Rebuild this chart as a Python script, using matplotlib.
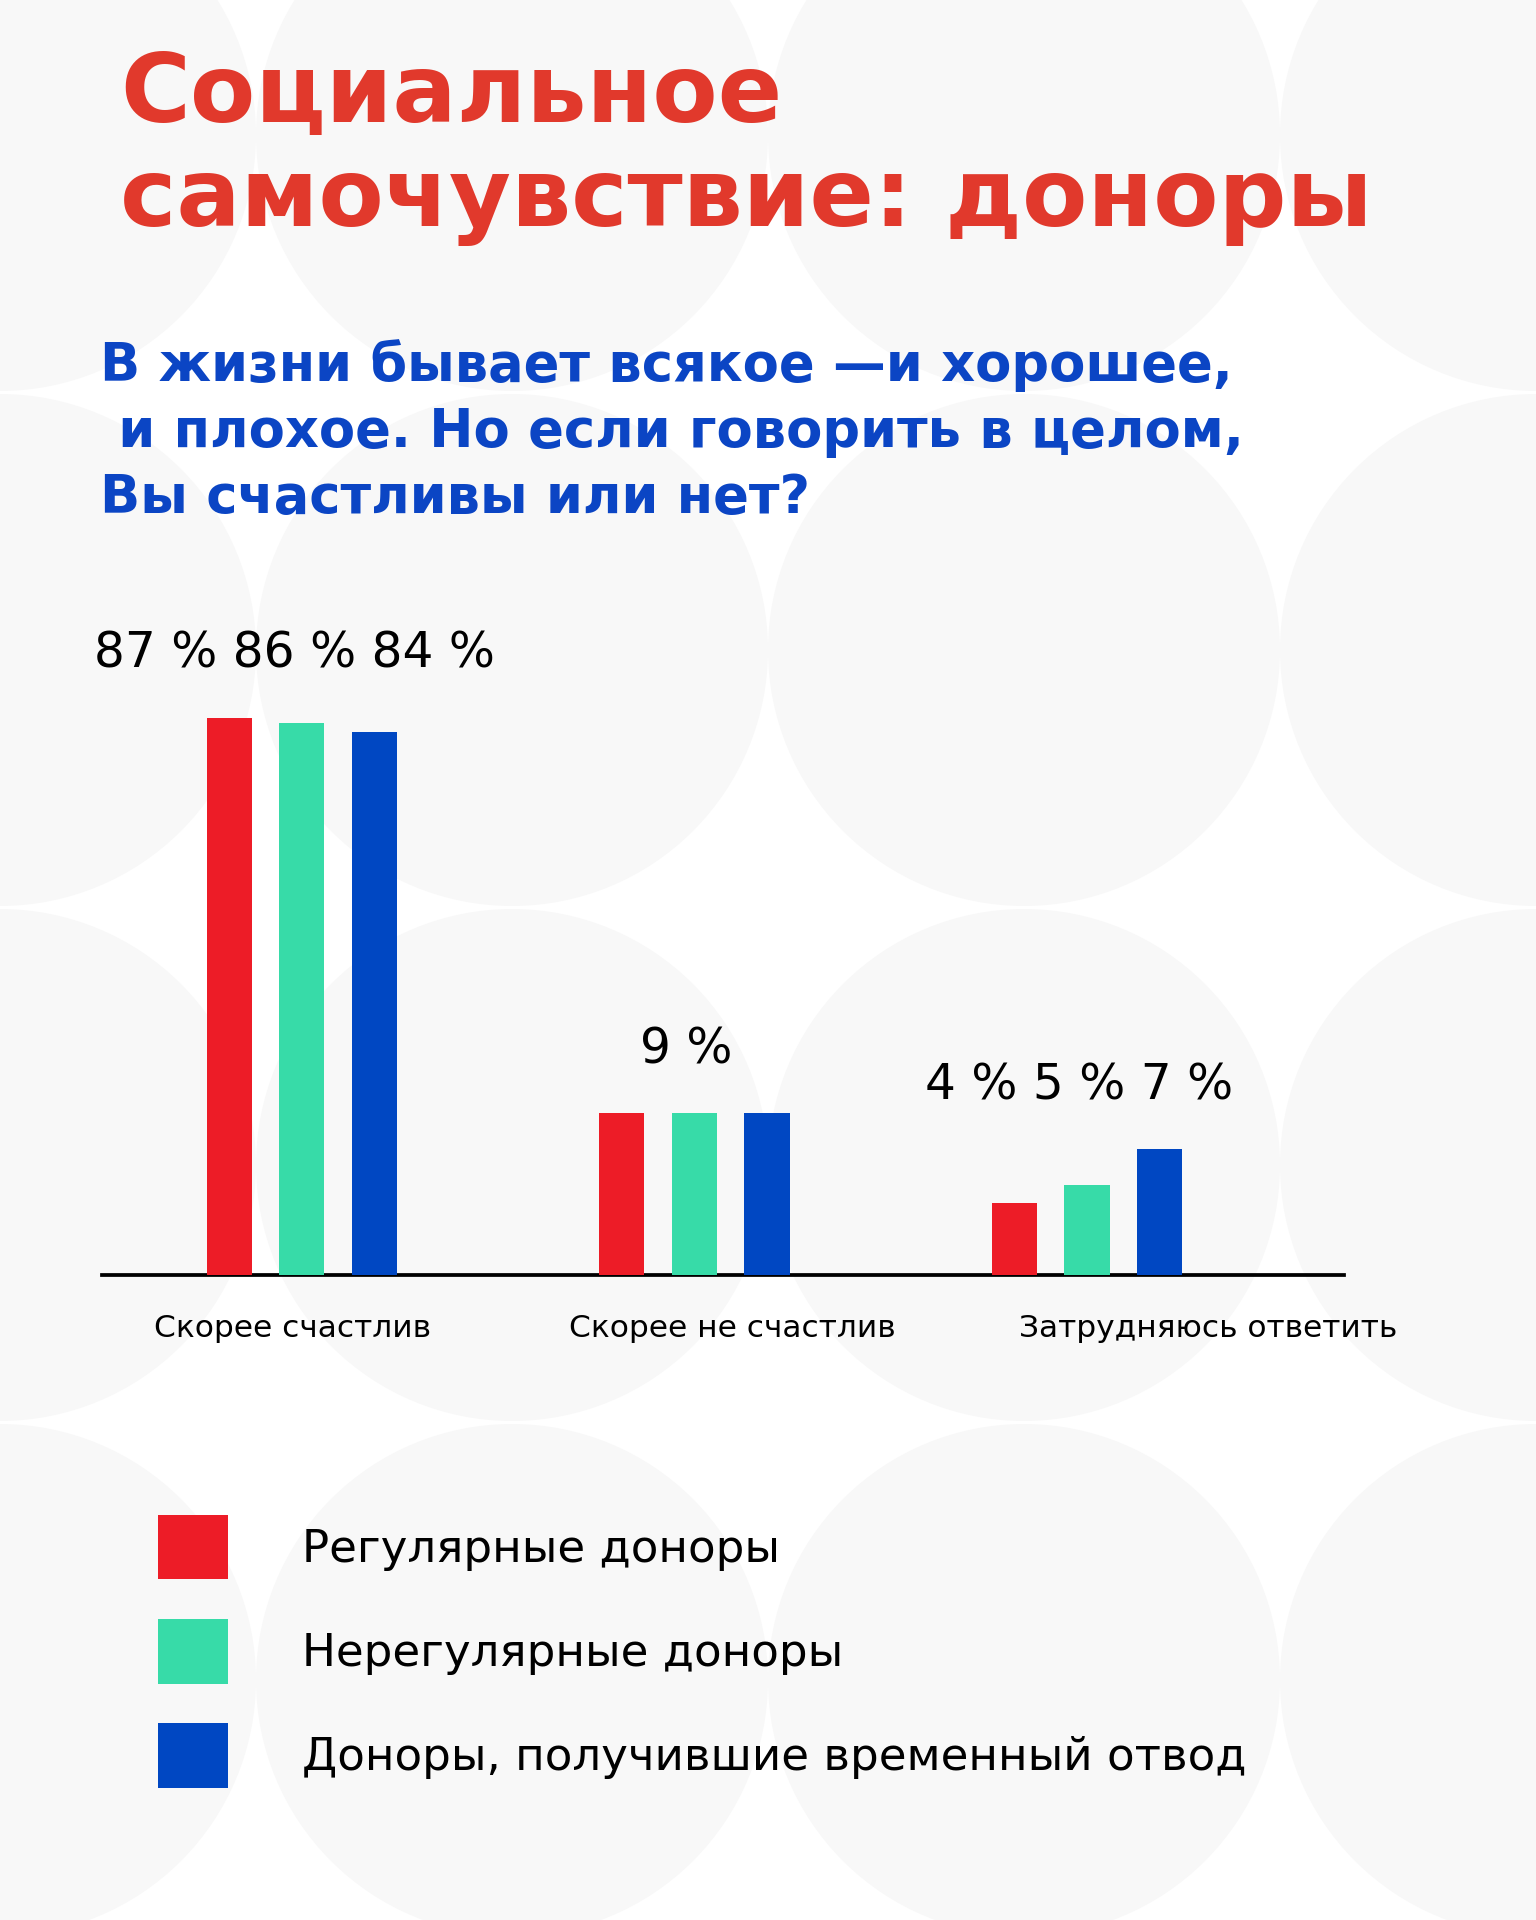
import matplotlib
matplotlib.use("Agg")
import matplotlib.pyplot as plt
from matplotlib.patches import Circle
import numpy as np

# --- data ---
categories = ["Скорее счастлив", "Скорее не счастлив", "Затрудняюсь ответить"]
series_names = ["Регулярные доноры", "Нерегулярные доноры",
                "Доноры, получившие временный отвод"]
regular = [87, 9, 4]
irregular = [86, 9, 5]
deferred = [84, 9, 7]

title_lines = ["Социальное", "самочувствие: доноры"]
question_lines = ["В жизни бывает всякое —и хорошее,",
                  " и плохое. Но если говорить в целом,",
                  "Вы счастливы или нет?"]

colors = ["#ED1C27", "#37DBA8", "#0047C2"]
title_color = "#E1392C"
question_color = "#0B45C4"

plt.rcParams['font.family'] = ['DejaVu Sans']

W, H = 1536, 1920
fig = plt.figure(figsize=(W / 100, H / 100), dpi=100, facecolor="white")


def fx(px):
    return px / W


def fy(py):
    return 1 - py / H


# background: grid of light grey circles
bg = fig.add_axes([0, 0, 1, 1], zorder=-10)
bg.set_xlim(0, W)
bg.set_ylim(H, 0)
bg.axis("off")
for cx in np.arange(0, W + 300, 512):
    for cy in np.arange(135, H + 300, 515):
        bg.add_patch(Circle((cx, cy), 256, facecolor="#F8F8F8", lw=0))

# title and question
for i, line in enumerate(title_lines):
    fig.text(fx(120), fy(122 + 104 * i), line, fontsize=68.5, fontweight="bold",
             color=title_color, ha="left", va="baseline")
for i, line in enumerate(question_lines):
    fig.text(fx(100), fy(381 + 66 * i), line, fontsize=38, fontweight="bold",
             color=question_color, ha="left", va="baseline")

# chart
base_y, top_y = 1275, 600
ax = fig.add_axes([fx(101.7), fy(base_y), (1343.7 - 101.7) / W, (base_y - top_y) / H])
ax.patch.set_alpha(0)

# the infographic stretches small values: two linear pieces joined at 10 %
brk, s_low, s_high = 10.0, 18.0, 4.9


def fwd(v):
    v = np.asarray(v, dtype=float)
    return np.where(v <= brk, v * s_low, brk * s_low + (v - brk) * s_high)


def inv(t):
    t = np.asarray(t, dtype=float)
    return np.where(t <= brk * s_low, t / s_low, brk + (t - brk * s_low) / s_high)


ax.set_yscale("function", functions=(fwd, inv))
ax.set_ylim(0, float(inv(base_y - top_y)))
ax.set_xlim(-0.51, 2.654)

x = np.arange(len(categories))
offsets = [-0.185, 0.0, 0.185]
width = 0.115
bars = []
for vals, off, c in zip([regular, irregular, deferred], offsets, colors):
    bars.append(ax.bar(x + off, vals, width, color=c, zorder=3))

for i in range(len(categories)):
    vals = [regular[i], irregular[i], deferred[i]]
    if len(set(vals)) == 1:
        txt = f"{vals[0]} %"
    else:
        txt = " ".join(f"{v} %" for v in vals)
    ax.annotate(txt, (x[i] - 0.02, max(vals)), xytext=(0, 36),
                textcoords="offset points", ha="center", va="baseline", fontsize=35)

for s in ["top", "left", "right"]:
    ax.spines[s].set_visible(False)
ax.spines["bottom"].set_linewidth(2.7)
ax.spines["bottom"].set_color("black")
ax.set_yticks([])
ax.minorticks_off()
label_x = [-0.023, 1.097, 2.308]
ax.set_xticks(label_x, categories, fontsize=22.5)
ax.tick_params(axis="x", length=0, pad=28)

fig.legend([b[0] for b in bars], series_names, loc="upper left",
           bbox_to_anchor=(fx(158), fy(1515)), bbox_transform=fig.transFigure,
           frameon=False, fontsize=32.5, handlelength=1.55, handleheight=1.82,
           handletextpad=1.65, labelspacing=0.88, borderpad=0, borderaxespad=0)

fig.savefig("out.png", dpi=100, facecolor="white")
